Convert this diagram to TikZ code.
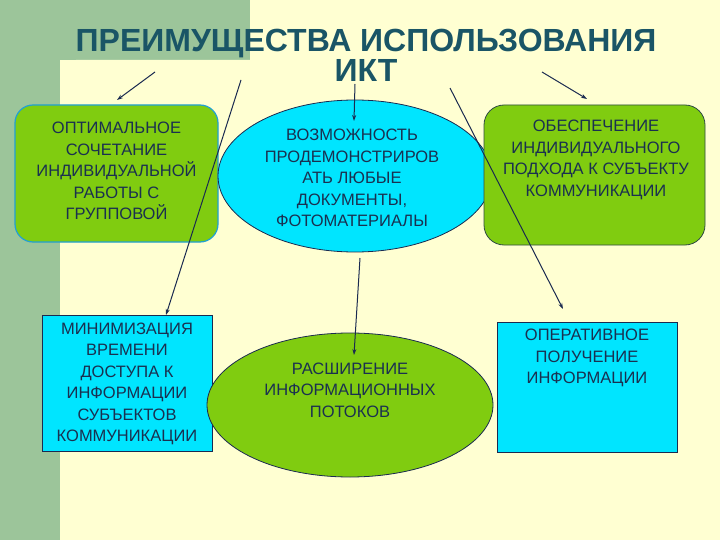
\documentclass[tikz,border=0pt]{standalone}
\usepackage{fontspec}
\setmainfont{Liberation Sans}
\usetikzlibrary{arrows.meta,shapes.geometric}
\definecolor{cream}{HTML}{FFFFD2}
\definecolor{strip}{HTML}{9CC59A}
\definecolor{lime}{HTML}{80CC10}
\definecolor{aqua}{HTML}{00E5FF}
\definecolor{ttl}{HTML}{1A5566}
\definecolor{txt}{HTML}{1A3050}
\definecolor{edge}{HTML}{1A2A50}
\begin{document}
\begin{tikzpicture}[x=1pt,y=-1pt,
  lbl/.style={text=txt,align=center,font=\fontsize{16.5}{21.5}\selectfont,inner sep=0},
  conn/.style={draw=edge,line width=1pt,-{Stealth[length=6pt,width=4pt]}}]
\useasboundingbox (0,0) rectangle (720,540);
\fill[cream] (0,0) rectangle (720,540);
\fill[strip] (0,0) rectangle (250,60);
\fill[strip] (0,0) rectangle (60,540);
\fill[cream,rounded corners=16] (60,60) rectangle (320,540);
% title
\node[text=ttl,font=\fontsize{32}{30}\selectfont\bfseries,align=center] (title) at (366,55) {ПРЕИМУЩЕСТВА ИСПОЛЬЗОВАНИЯ\\ИКТ};
% shapes
\draw[fill=lime,draw=cyan!70!teal,line width=1.2pt,rounded corners=18] (15,105) rectangle (218,242);
\node (A) at (116.5,173.5) {};
\draw[fill=aqua,draw=edge,line width=0.8pt] (355,176) ellipse [x radius=137,y radius=76];
\node (B) at (355,176) {};
\draw[fill=lime,draw=edge!80!lime,line width=0.8pt,rounded corners=20] (484,105) rectangle (705,245);
\node (C) at (594.5,175) {};
\draw[fill=aqua,draw=edge,line width=0.8pt] (42,315) rectangle (212,451);
\node (D) at (127,383) {};
\draw[fill=lime,draw=edge,line width=0.8pt] (350,405) ellipse [x radius=143,y radius=72];
\node (E) at (350,405) {};
\draw[fill=aqua,draw=edge,line width=0.8pt] (497,322) rectangle (677,452);
\node (F) at (587,387) {};
% texts
\node[lbl] (tA) at (116.5,171) {ОПТИМАЛЬНОЕ\\СОЧЕТАНИЕ\\ИНДИВИДУАЛЬНОЙ\\РАБОТЫ С\\ГРУППОВОЙ};
\node[lbl] (tB) at (352,178) {ВОЗМОЖНОСТЬ\\ПРОДЕМОНСТРИРОВ\\АТЬ ЛЮБЫЕ\\ДОКУМЕНТЫ,\\ФОТОМАТЕРИАЛЫ};
\node[lbl] (tC) at (596,160) {ОБЕСПЕЧЕНИЕ\\ИНДИВИДУАЛЬНОГО\\ПОДХОДА К СУБЪЕКТУ\\КОММУНИКАЦИИ};
\node[lbl] (tD) at (127,384) {МИНИМИЗАЦИЯ\\ВРЕМЕНИ\\ДОСТУПА К\\ИНФОРМАЦИИ\\СУБЪЕКТОВ\\КОММУНИКАЦИИ};
\node[lbl] (tE) at (350,390) {РАСШИРЕНИЕ\\ИНФОРМАЦИОННЫХ\\ПОТОКОВ};
\node[lbl] (tF) at (587,358) {ОПЕРАТИВНОЕ\\ПОЛУЧЕНИЕ\\ИНФОРМАЦИИ};
% connectors
\coordinate (s1) at (155,72); \coordinate (e1) at (117,100);
\coordinate (s2) at (241,80); \coordinate (e2) at (166,315);
\coordinate (s3) at (355,84); \coordinate (e3) at (354,121);
\coordinate (s4) at (450,88); \coordinate (e4) at (563,309);
\coordinate (s5) at (542,72); \coordinate (e5) at (587,99);
\coordinate (s6) at (360,258); \coordinate (e6) at (354,355);
\draw[conn] (s1) -- (e1);
\draw[conn] (s2) -- (e2);
\draw[conn] (s3) -- (e3);
\draw[conn] (s4) -- (e4);
\draw[conn] (s5) -- (e5);
\draw[conn] (s6) -- (e6);
\end{tikzpicture}
\end{document}
